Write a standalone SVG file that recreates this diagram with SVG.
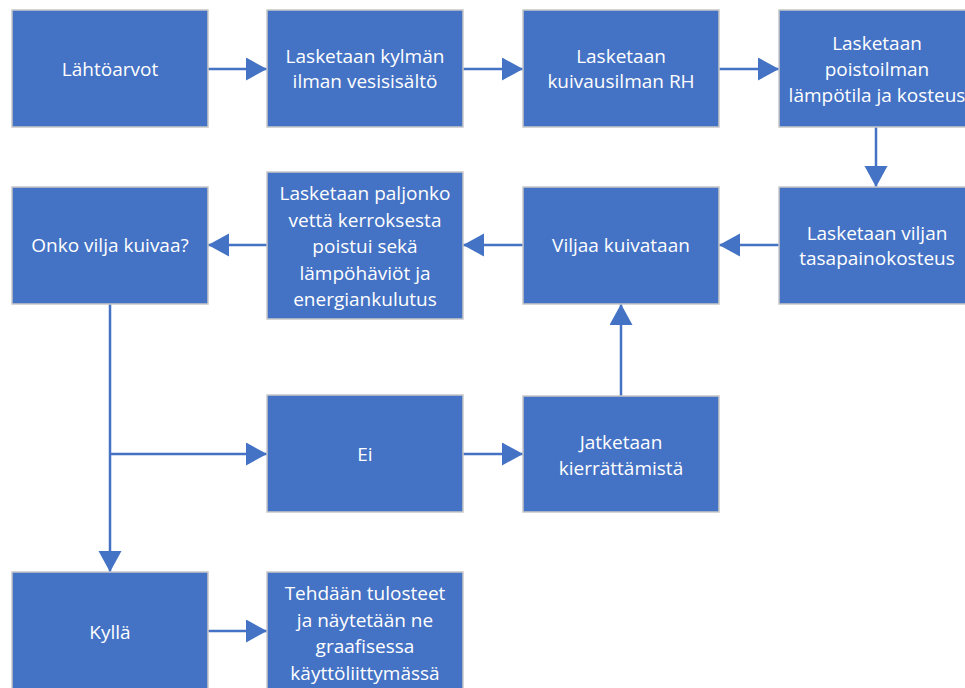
<svg xmlns="http://www.w3.org/2000/svg" width="965" height="688" viewBox="0 0 965 688">
<style>
.box{fill:#4472C4;stroke:#c8c8c8;stroke-width:1.5}
.t{fill:#ffffff;font-family:"Open Sans","Noto Sans",sans-serif;font-size:19px;text-anchor:middle}
.c{stroke:#4472C4;stroke-width:2.5;fill:none}
</style>
<defs>
<marker id="ah" markerUnits="userSpaceOnUse" markerWidth="22" markerHeight="24" refX="21" refY="11.5" orient="auto">
<path d="M0,0 L21,11.5 L0,23 z" fill="#4472C4"/>
</marker>
</defs>
<rect width="965" height="688" fill="#ffffff"/>
<g id="connectors">
<line class="c" x1="208" y1="69" x2="267" y2="69" marker-end="url(#ah)"/>
<line class="c" x1="463" y1="69" x2="523" y2="69" marker-end="url(#ah)"/>
<line class="c" x1="719" y1="69" x2="779" y2="69" marker-end="url(#ah)"/>
<line class="c" x1="876" y1="127" x2="876" y2="187" marker-end="url(#ah)"/>
<line class="c" x1="779" y1="245" x2="719" y2="245" marker-end="url(#ah)"/>
<line class="c" x1="523" y1="245" x2="463" y2="245" marker-end="url(#ah)"/>
<line class="c" x1="267" y1="245" x2="208" y2="245" marker-end="url(#ah)"/>
<line class="c" x1="110" y1="304" x2="110" y2="572" marker-end="url(#ah)"/>
<line class="c" x1="110" y1="454" x2="267" y2="454" marker-end="url(#ah)"/>
<line class="c" x1="463" y1="454" x2="523" y2="454" marker-end="url(#ah)"/>
<line class="c" x1="621" y1="396" x2="621" y2="304" marker-end="url(#ah)"/>
<line class="c" x1="208" y1="631" x2="267" y2="631" marker-end="url(#ah)"/>
</g>
<g id="n1"><rect class="box" x="12" y="10" width="196" height="117"/><text class="t" x="110" y="76">Lähtöarvot</text></g>
<g id="n2"><rect class="box" x="267" y="10" width="196" height="117"/><text class="t" x="365" y="63">Lasketaan kylmän</text><text class="t" x="365" y="88">ilman vesisisältö</text></g>
<g id="n3"><rect class="box" x="523" y="10" width="196" height="117"/><text class="t" x="621" y="63">Lasketaan</text><text class="t" x="621" y="88">kuivausilman RH</text></g>
<g id="n4"><rect class="box" x="779" y="10" width="196" height="117"/><text class="t" x="877" y="50">Lasketaan</text><text class="t" x="877" y="76">poistoilman</text><text class="t" x="877" y="102">lämpötila ja kosteus</text></g>
<g id="n5"><rect class="box" x="779" y="187" width="196" height="117"/><text class="t" x="877" y="240">Lasketaan viljan</text><text class="t" x="877" y="265">tasapainokosteus</text></g>
<g id="n6"><rect class="box" x="523" y="187" width="196" height="117"/><text class="t" x="621" y="252">Viljaa kuivataan</text></g>
<g id="n7"><rect class="box" x="267" y="172" width="196" height="147"/><text class="t" x="365" y="200">Lasketaan paljonko</text><text class="t" x="365" y="227">vettä kerroksesta</text><text class="t" x="365" y="253">poistui sekä</text><text class="t" x="365" y="280">lämpöhäviöt ja</text><text class="t" x="365" y="306">energiankulutus</text></g>
<g id="n8"><rect class="box" x="12" y="187" width="196" height="117"/><text class="t" x="110" y="252">Onko vilja kuivaa?</text></g>
<g id="n9"><rect class="box" x="267" y="395" width="196" height="117"/><text class="t" x="365" y="461">Ei</text></g>
<g id="n10"><rect class="box" x="523" y="396" width="196" height="116"/><text class="t" x="621" y="449">Jatketaan</text><text class="t" x="621" y="475">kierrättämistä</text></g>
<g id="n11"><rect class="box" x="12" y="572" width="196" height="125"/><text class="t" x="110" y="639">Kyllä</text></g>
<g id="n12"><rect class="box" x="267" y="572" width="196" height="125"/><text class="t" x="365" y="600">Tehdään tulosteet</text><text class="t" x="365" y="627">ja näytetään ne</text><text class="t" x="365" y="653">graafisessa</text><text class="t" x="365" y="680">käyttöliittymässä</text></g>
</svg>
